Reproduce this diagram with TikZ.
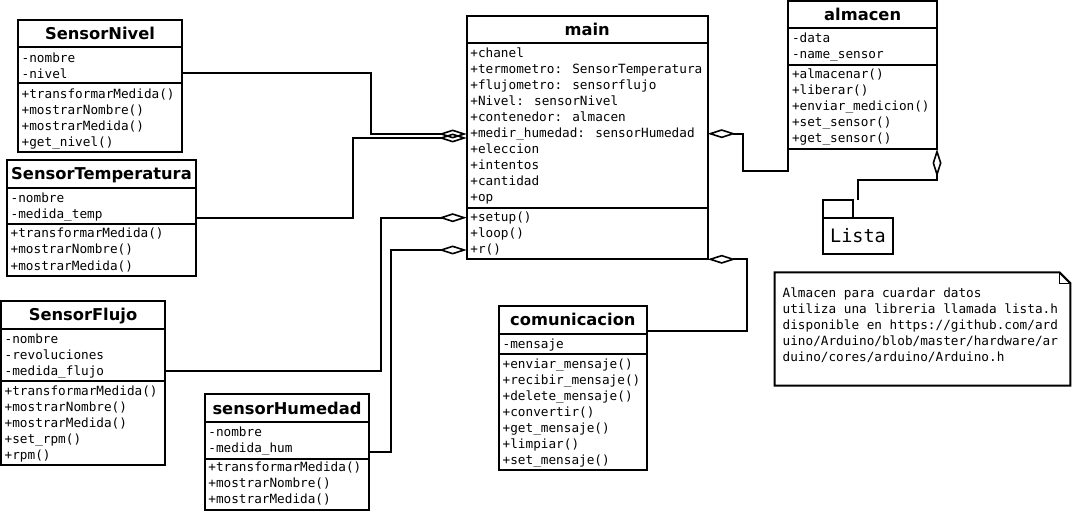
\documentclass[tikz,border=0pt]{standalone}
\usepackage{fontspec}
\newfontfamily\umlmono{DejaVu Sans Mono}
\newfontfamily\umlsans{DejaVu Sans}
\usetikzlibrary{arrows.meta,calc}

\tikzset{
  box/.style={draw, rectangle, line width=2pt, outer sep=0pt, inner sep=0pt},
  boxline/.style={line width=2pt},
  classtitle/.style={anchor=base, inner sep=0pt, font=\umlsans\bfseries\fontsize{16.3}{19}\selectfont},
  member/.style={anchor=base west, inner sep=0pt, font=\umlmono\fontsize{12.7}{16}\selectfont},
  assoc/.style={line width=2pt, -{Diamond[open, length=28pt, width=9pt, line width=1.6pt]}},
  aggstart/.style={line width=2pt, {Diamond[open, length=28pt, width=9pt, line width=1.6pt]}-},
  noteline/.style={line width=2pt, line join=miter},
  foldline/.style={line width=1.2pt},
}

% class box: name, left, top, right, bottom, header rule y, attribute rule y, title
\newcommand\umlclass[8]{%
  \node[box, anchor=north west, minimum width={#4-#2}, minimum height={#5-#3}] (#1) at (#2,#3) {};
  \draw[boxline] (#2,#6) -- (#4,#6) (#2,#7) -- (#4,#7);
  \node[classtitle] (#1-title) at ({(#2+#4)/2},{(#3+#6)/2+5.9}) {#8};
}
% member lines: name prefix, x, first baseline, list
\newcommand\members[4]{%
  \foreach \txt [count=\k from 0] in {#4} {\node[member] (#1-\k) at (#2,{#3+16*\k}) {\txt};}%
}

\begin{document}
\begin{tikzpicture}[x=1pt, y=-1pt]
\useasboundingbox (0,0) rectangle (1074,513);
\fill[white] (0,0) rectangle (1074,513);

% SensorNivel
\umlclass{sn}{18}{20}{182}{152}{47.3}{83.3}{SensorNivel}
\members{sn-a}{21.5}{62.3}{-nombre,-nivel}
\members{sn-m}{21.5}{98.3}{+transformarMedida(),+mostrarNombre(),+mostrarMedida(),+get\_nivel()}

% SensorTemperatura
\umlclass{st}{7}{160}{196}{276}{188}{224}{SensorTemperatura}
\members{st-a}{10.5}{202.3}{-nombre,-medida\_temp}
\members{st-m}{10.5}{238}{+transformarMedida(),+mostrarNombre(),+mostrarMedida()}

% SensorFlujo
\umlclass{sf}{1}{301}{165}{465}{329}{380.7}{SensorFlujo}
\members{sf-a}{4.5}{343.3}{-nombre,-revoluciones,-medida\_flujo}
\members{sf-m}{4.5}{395}{+transformarMedida(),+mostrarNombre(),+mostrarMedida(),+set\_rpm(),+rpm()}

% sensorHumedad
\umlclass{sh}{204.7}{394}{369.3}{510}{422.3}{459.3}{sensorHumedad}
\members{sh-a}{208.2}{436.3}{-nombre,-medida\_hum}
\members{sh-m}{208.2}{471.6}{+transformarMedida(),+mostrarNombre(),+mostrarMedida()}

% main
\umlclass{main}{466.7}{15.7}{707.7}{259.3}{43.3}{208.3}{main}
\members{main-a}{470.2}{57.3}{+chanel,+termometro: SensorTemperatura,+flujometro: sensorflujo,+Nivel: sensorNivel,+contenedor: almacen,+medir\_humedad: sensorHumedad,+eleccion,+intentos,+cantidad,+op}
\members{main-m}{470.2}{222}{+setup(),+loop(),+r()}

% almacen
\umlclass{al}{788.3}{1}{937}{149}{28.3}{65}{almacen}
\members{al-a}{791.8}{42.9}{-data,-name\_sensor}
\members{al-m}{791.8}{78.6}{+almacenar(),+liberar(),+enviar\_medicion(),+set\_sensor(),+get\_sensor()}

% comunicacion
\umlclass{com}{499}{305.7}{646.7}{470}{333.7}{354}{comunicacion}
\members{com-a}{502.5}{348}{-mensaje}
\members{com-m}{502.5}{368.6}{+enviar\_mensaje(),+recibir\_mensaje(),+delete\_mensaje(),+convertir(),+get\_mensaje(),+limpiar(),+set\_mensaje()}

% Lista package
\node[box, anchor=north west, minimum width=70.6, minimum height=36.3,
      font=\umlmono\fontsize{18.5}{20}\selectfont] (lista) at (822.7,217.7) {Lista};
\node[box, anchor=south west, minimum width=30.6, minimum height=17.7] (listatab) at (lista.north west) {};

% note
\node[anchor=north west, minimum width=295.3, minimum height=113, inner sep=0pt] (note) at (774.7,272.3) {};
\draw[noteline] (note.north west) -- ($(note.north east)+(-11,0)$) -- ($(note.north east)+(0,11)$)
  -- (note.south east) -- (note.south west) -- cycle;
\draw[foldline] ($(note.north east)+(-11,0)$) |- ($(note.north east)+(0,11)$);
\members{note-t}{782.5}{297.3}{Almacen para cuardar datos,utiliza una libreria llamada lista.h,disponible en https://github.com/ard,uino/Arduino/blob/master/hardware/ar,duino/cores/arduino/Arduino.h}

% attachment points on main
\coordinate (mL1) at ($(main.north west)+(0,118.3)$);
\coordinate (mL2) at ($(main.north west)+(0,122.3)$);
\coordinate (mL3) at ($(main.north west)+(0,202)$);
\coordinate (mL4) at ($(main.north west)+(0,234.3)$);
\coordinate (mR1) at ($(main.north east)+(0,118)$);

% sensors aggregated by main
\draw[assoc] ($(sn.north east)+(0,53)$) -- ++(189,0) |- (mL1);
\draw[assoc] ($(st.north east)+(0,57.7)$) -- ++(156.7,0) |- (mL2);
\draw[assoc] ($(sf.north east)+(0,69.7)$) -- ++(216,0) |- (mL3);
\draw[assoc] ($(sh.north east)+(0,57.7)$) -- ++(21.7,0) |- (mL4);

% main -> almacen, main -> comunicacion
\draw[aggstart] (mR1) -- ++(35,0) |- ($(al.south west)+(0,21.7)$) -- (al.south west);
\draw[aggstart] (main.south east) -- ++(39,0) |- ($(com.north east)+(0,25)$);

% almacen -> Lista
\draw[aggstart] (al.south east) -- ++(0,31) -| (lista.north |- listatab.north);
\end{tikzpicture}
\end{document}
